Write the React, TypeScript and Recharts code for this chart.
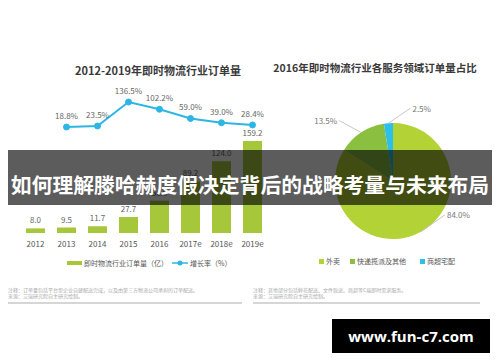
import React from 'react';
import { ComposedChart, Bar, Line, XAxis, YAxis, LabelList, PieChart, Pie, Cell } from 'recharts';

const years = ['2012', '2013', '2014', '2015', '2016', '2017e', '2018e', '2019e'];
const orders = [8.0, 9.5, 11.7, 27.7, 56.0, 89.2, 124.0, 159.2];
const growth: (number | null)[] = [null, 18.8, 23.5, 136.5, 102.2, 59.0, 39.0, 28.4];

const shareNames = ['外卖', '快递揽派及其他', '商超宅配'];
const shareValues = [84.0, 13.5, 2.5];
const shareColors = ['#b3d235', '#8bbf3f', '#2bbfea'];

const leftTitle = '2012-2019年即时物流行业订单量';
const rightTitle = '2016年即时物流行业各服务领域订单量占比';
const barLegend = '即时物流行业订单量（亿）';
const lineLegend = '增长率（%）';
const leftNotes = ['注释：订单量包括平台型企业自建配送完成，以及由第三方物流公司承担的订单配送。', '来源：艾瑞研究院自主研究绘制。'];
const rightNotes = ['注释：其他部分包括鲜花配送、文件取送、商超等C端即时需求服务。', '来源：艾瑞研究院自主研究绘制。'];
const bannerText = '如何理解滕哈赫度假决定背后的战略考量与未来布局';
const watermark = 'www.fun-c7.com';

const BAR_COLOR = '#a6c73a';
const LINE_COLOR = '#2db6e5';
const FONT = "'Noto Sans CJK SC', 'Noto Sans', sans-serif";

const PIE_LABEL_OFFSETS: [number, number][] = [[24, -17], [-22, -12], [22, -15]];

const barData = years.map((y, i) => ({ year: y, orders: orders[i], growth: growth[i] }));
const pieData = shareNames.map((n, i) => ({ name: n, value: shareValues[i] }));

const renderPieLabel = (props: any) => {
  const { cx, cy, midAngle, outerRadius, index, value } = props;
  const RAD = Math.PI / 180;
  const sx = cx + outerRadius * Math.cos(-midAngle * RAD);
  const sy = cy + outerRadius * Math.sin(-midAngle * RAD);
  const [dx, dy] = PIE_LABEL_OFFSETS[index];
  const ex = sx + dx;
  const ey = sy + dy;
  const right = dx > 0;
  return (
    <g>
      <path d={`M${sx},${sy}L${ex},${ey}`} stroke="#c8c8c8" strokeWidth={1} fill="none" />
      <text x={ex + (right ? 2 : -2)} y={ey} textAnchor={right ? 'start' : 'end'} dominantBaseline="central"
        fontSize={8} fill="#777" fontFamily={FONT}>{`${Number(value).toFixed(1)}%`}</text>
    </g>
  );
};

export default function App() {
  const noteStyle: React.CSSProperties = { position: 'absolute', fontSize: 5, lineHeight: '5.5px', color: '#aaa', whiteSpace: 'nowrap' };
  return (
    <div style={{ position: 'absolute', left: 0, top: 0, width: 500, height: 362, background: '#fff', overflow: 'hidden', fontFamily: FONT }}>
      <div style={{ position: 'absolute', left: 0, width: 316, top: 62, textAlign: 'center', fontSize: 11, fontWeight: 700, color: '#3a3a3a', lineHeight: '16px' }}>{leftTitle}</div>
      <div style={{ position: 'absolute', left: 270, width: 210, top: 60, textAlign: 'center', fontSize: 10.5, fontWeight: 700, color: '#3a3a3a', lineHeight: '16px' }}>{rightTitle}</div>

      <div style={{ position: 'absolute', left: 0, top: 0 }}>
        <ComposedChart width={270} height={362} data={barData} margin={{ top: 90, right: 2, bottom: 109, left: 20 }}>
          <XAxis dataKey="year" axisLine={false} tickLine={false} height={20} interval={0}
            tick={{ fontSize: 8, fill: '#555', fontFamily: FONT }} />
          <YAxis yAxisId="left" hide domain={[0, 247.4]} allowDataOverflow />
          <YAxis yAxisId="right" hide orientation="right" domain={[-480, 193]} allowDataOverflow />
          <Bar yAxisId="left" dataKey="orders" fill={BAR_COLOR} barSize={19} isAnimationActive={false}>
            <LabelList dataKey="orders" position="top" offset={5} fontSize={8} fill="#666" fontFamily={FONT}
              formatter={(v: any) => (v == null ? '' : Number(v).toFixed(1))} />
          </Bar>
          <Line yAxisId="right" dataKey="growth" stroke={LINE_COLOR} strokeWidth={2} isAnimationActive={false}
            dot={{ r: 3, fill: LINE_COLOR, stroke: LINE_COLOR, strokeWidth: 1 }} activeDot={false}>
            <LabelList dataKey="growth" position="top" offset={8} fontSize={8} fill="#666" fontFamily={FONT}
              formatter={(v: any) => (v == null ? '' : `${Number(v).toFixed(1)}%`)} />
          </Line>
        </ComposedChart>
      </div>

      <div style={{ position: 'absolute', left: 270, top: 0 }}>
        <PieChart width={230} height={362}>
          <Pie data={pieData} dataKey="value" nameKey="name" cx={118} cy={176} outerRadius={58}
            startAngle={90} endAngle={-270} stroke="none" isAnimationActive={false}
            label={renderPieLabel} labelLine={false}>
            {pieData.map((d, i) => <Cell key={d.name} fill={shareColors[i]} />)}
          </Pie>
        </PieChart>
      </div>

      {/* left legend */}
      <div style={{ position: 'absolute', left: 67, top: 256, height: 14, display: 'flex', alignItems: 'center', fontSize: 7, color: '#555', whiteSpace: 'nowrap' }}>
        <span style={{ display: 'inline-block', width: 15, height: 4, background: BAR_COLOR, marginRight: 2 }} />
        <span>{barLegend}</span>
        <svg width={16} height={8} style={{ marginLeft: 4, marginRight: 2 }}>
          <line x1={0} y1={4} x2={16} y2={4} stroke={LINE_COLOR} strokeWidth={1.5} />
          <circle cx={8} cy={4} r={2.5} fill={LINE_COLOR} />
        </svg>
        <span>{lineLegend}</span>
      </div>

      {/* right legend */}
      <div style={{ position: 'absolute', left: 319, top: 254, height: 14, display: 'flex', alignItems: 'center', fontSize: 7, color: '#555', whiteSpace: 'nowrap' }}>
        {shareNames.map((n, i) => (
          <span key={n} style={{ display: 'flex', alignItems: 'center', marginRight: i === 0 ? 10 : 14 }}>
            <span style={{ display: 'inline-block', width: 5, height: 5, background: shareColors[i], marginRight: 2 }} />
            <span>{n}</span>
          </span>
        ))}
      </div>

      {/* notes */}
      <div style={{ ...noteStyle, left: 8, top: 287 }}>{leftNotes.map(t => <div key={t}>{t}</div>)}</div>
      <div style={{ ...noteStyle, left: 253, top: 287 }}>{rightNotes.map(t => <div key={t}>{t}</div>)}</div>
      <div style={{ position: 'absolute', left: 8, top: 302, width: 234, height: 2, background: '#d6d6d6' }} />
      <div style={{ position: 'absolute', left: 253, top: 302, width: 227, height: 2, background: '#d6d6d6' }} />

      {/* banner */}
      <div style={{ position: 'absolute', left: 8, top: 150, width: 484, height: 55, background: 'rgba(0,0,0,0.64)' }} />
      <div style={{ position: 'absolute', left: 0, width: 500, top: 170, textAlign: 'center', fontSize: 20.8, fontWeight: 700, color: '#fff', lineHeight: '28px', whiteSpace: 'nowrap' }}>{bannerText}</div>

      {/* watermark */}
      <div style={{ position: 'absolute', left: 332, top: 319, width: 158, height: 34, background: '#000', color: '#fff', display: 'flex', alignItems: 'center', justifyContent: 'center', fontSize: 15, fontWeight: 700, fontFamily: "'Open Sans', sans-serif" }}>{watermark}</div>
    </div>
  );
}
